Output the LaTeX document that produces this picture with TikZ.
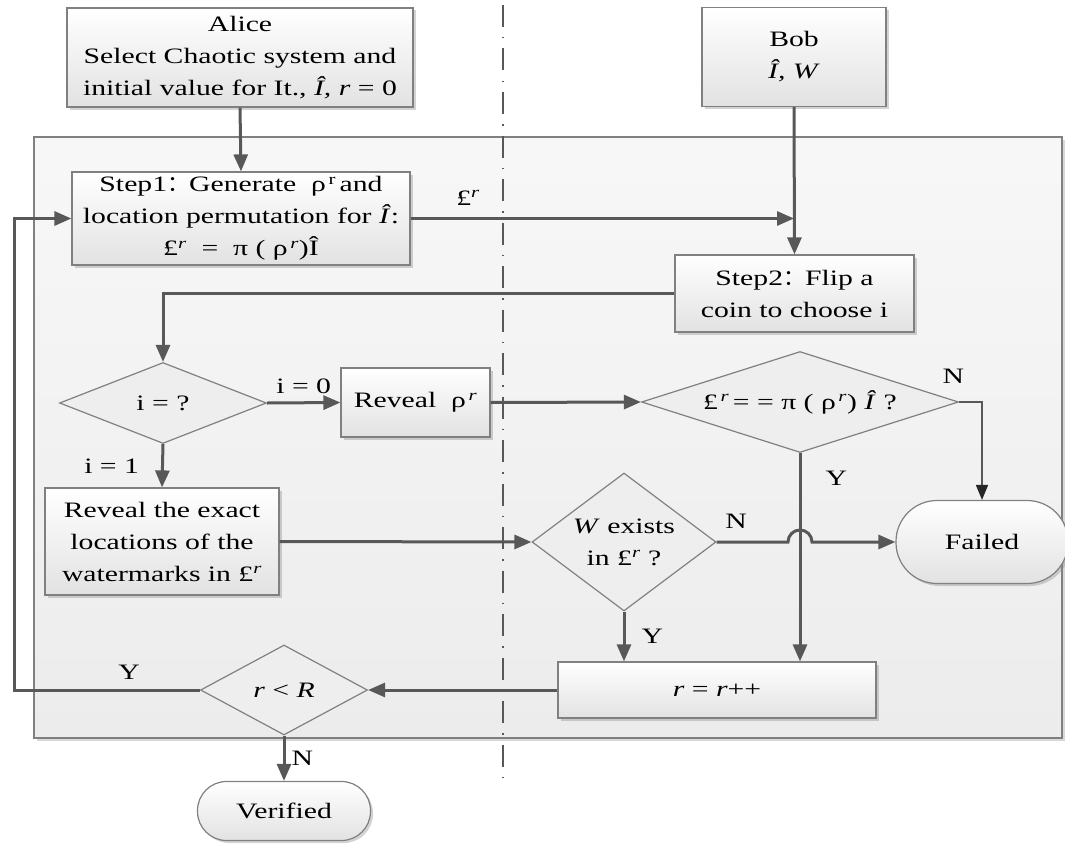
\documentclass[tikz,border=0pt]{standalone}
\usepackage{fontspec}
\setmainfont{Liberation Serif}[FakeStretch=1.35]
\newfontfamily\cjk{Noto Sans CJK SC}
\usetikzlibrary{arrows.meta,shapes.geometric,shadows}
\definecolor{boxgray}{RGB}{128,128,128}
\definecolor{fillgray}{RGB}{226,226,226}
\definecolor{diagray}{RGB}{238,238,238}
\definecolor{panelgray}{RGB}{236,236,236}
\definecolor{arrgray}{RGB}{88,88,88}
\newcommand\mainsize{\fontsize{22}{32}\selectfont}
\newcommand\fcolon{{\cjk ：}}
\tikzset{
  box/.style={draw=boxgray, line width=1.2pt, top color=white, bottom color=fillgray,
    drop shadow={shadow xshift=2.5pt, shadow yshift=-2.5pt, opacity=.35, fill=gray},
    align=center, inner sep=2pt, font=\mainsize},
  dia/.style={diamond, draw=boxgray, line width=1.2pt, fill=diagray, align=center,
    inner sep=0pt, font=\mainsize},
  term/.style={draw=boxgray, line width=1.2pt, top color=white, bottom color=fillgray,
    drop shadow={shadow xshift=2.5pt, shadow yshift=-2.5pt, opacity=.35, fill=gray},
    align=center, font=\mainsize},
  arr/.style={draw=arrgray, line width=3pt, -{Triangle[length=17pt,width=14pt]}},
  thinarr/.style={draw=arrgray, line width=1.6pt, -{Triangle[length=15pt,width=12pt,fill=black!85,color=black!85]}},
  lbl/.style={font=\mainsize, inner sep=0pt},
}
\begin{document}
\begin{tikzpicture}[x=1pt,y=-1pt]
\useasboundingbox (0,0) rectangle (1065,843);
% panel
\path[draw=boxgray, line width=1.2pt, top color=white!60!panelgray, bottom color=panelgray,
  drop shadow={shadow xshift=2.5pt, shadow yshift=-2.5pt, opacity=.3, fill=gray}]
  (34,137) rectangle (1062,738);
% divider
\coordinate (dtop) at (503,5);
\coordinate (dbot) at (503,778);
\draw[arrgray, line width=2.5pt, dash pattern=on 22pt off 10pt on 1.5pt off 10pt] (dtop) -- (dbot);

% nodes
\node[box, minimum width=346pt, minimum height=99pt] (alice) at (240,57.5)
  {Alice\\Select Chaotic system and\\initial value for It., \textit{Î, r} = 0};
\node[box, minimum width=184pt, minimum height=99pt] (bob) at (794,57)
  {Bob\\\textit{Î, W}};
\node[box, minimum width=338pt, minimum height=93pt] (step1) at (241,218.5)
  {Step1\fcolon Generate \ ρ\textsuperscript{\,r}\,and\\location permutation for \textit{Î}:\\
   £\textsuperscript{\textit{r}} \ = \ π ( ρ\textsuperscript{\,\textit{r}})Î};
\node[box, minimum width=239pt, minimum height=77pt] (step2) at (794.5,293.5)
  {Step2\fcolon Flip a\\coin to choose i};
\node[dia, aspect=2.55, minimum width=207pt, minimum height=81pt] (dq) at (163,403) {i = ?};
\node[box, minimum width=149pt, minimum height=69pt] (reveal) at (415.5,402.5)
  {Reveal \ ρ\textsuperscript{\,\textit{r}}};
\node[dia, aspect=3.14, minimum width=317pt, minimum height=101pt] (dc) at (800,402)
  {£\textsuperscript{\,\textit{r}}\,= = π ( ρ\textsuperscript{\,\textit{r}}) \textit{Î} ?};
\node[box, minimum width=234pt, minimum height=107pt] (rex) at (162,541.5)
  {Reveal the exact\\locations of the\\watermarks in £\textsuperscript{\textit{r}}};
\node[dia, aspect=1.33, minimum width=184pt, minimum height=138pt] (dw) at (624,542)
  {\textit{W} exists\\in £\textsuperscript{\textit{r}} ?};
\node[term, minimum width=172pt, minimum height=83pt, rounded corners=41pt] (failed) at (982,542) {Failed};
\node[box, minimum width=318pt, minimum height=56pt] (rr) at (717,690)
  {\textit{r} = \textit{r}++};
\node[dia, aspect=1.85, minimum width=167pt, minimum height=90pt] (dr) at (284,690) {\textit{r} < \textit{R}};
\node[term, minimum width=173pt, minimum height=59pt, rounded corners=29pt] (verified) at (284,811) {Verified};

\coordinate (loopx) at (14,0);

% connectors
\draw[arr] (alice.south) -- (step1.north);
\draw[arr] (bob.south) -- (step2.north);
\draw[arr] (step1.east) -- (step1.east -| bob.south)
  node[lbl, pos=0.15, above=12pt] {£\textsuperscript{\textit{r}}};
\draw[arr] (step2.west) -| (dq.north);
\draw[arr] (dq.east) -- (reveal.west) node[lbl, midway, above=8pt] {i = 0};
\draw[arr] (dq.south) -- (rex.north) node[lbl, midway, left=22pt] {i = 1};
\draw[arr] (reveal.east) -- (dc.west);
\draw[thinarr] (dc.east) -| (failed.north) node[lbl, pos=0.05, above=18pt, xshift=-8pt] {N};
\draw[arr] (dc.south) -- (dc.south |- rr.north) node[lbl, pos=0.12, right=24pt] {Y};
\draw[arr] (rex.east) -- (dw.west);
\draw[arr] (dw.east) -- (788,542) arc (180:360:12) -- (failed.west);
\node[lbl] (nw) at (736,521) {N};
\draw[arr] (dw.south) -- (dw.south |- rr.north) node[lbl, midway, right=16pt] {Y};
\draw[arr] (rr.west) -- (dr.east);
\draw[arr] (dr.west) -- (dr.west -| loopx) |- (step1.west);
\node[lbl] (ylbl) at (129,672) {Y};
\draw[arr] (dr.south) -- (verified.north) node[lbl, midway, right=6pt] {N};
\end{tikzpicture}
\end{document}
